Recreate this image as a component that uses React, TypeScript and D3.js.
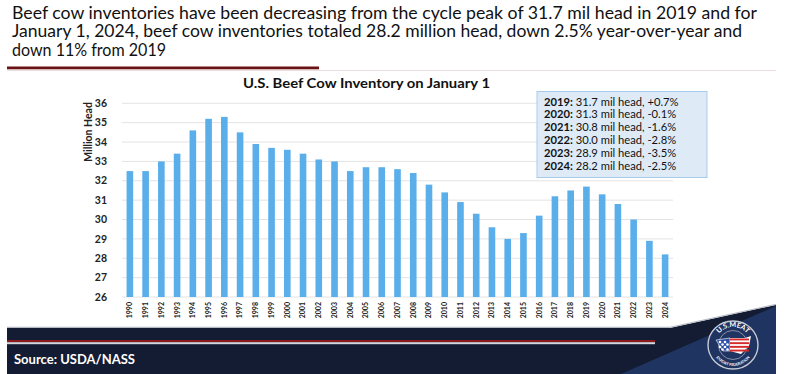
import * as d3 from "d3";

const years = [
  "1990", "1991", "1992", "1993", "1994", "1995", "1996", "1997", "1998", "1999",
  "2000", "2001", "2002", "2003", "2004", "2005", "2006", "2007", "2008", "2009",
  "2010", "2011", "2012", "2013", "2014", "2015", "2016", "2017", "2018", "2019",
  "2020", "2021", "2022", "2023", "2024",
];
const inventory = [
  32.5, 32.5, 33.0, 33.4, 34.6, 35.2, 35.3, 34.5, 33.9, 33.7,
  33.6, 33.4, 33.1, 33.0, 32.5, 32.7, 32.7, 32.6, 32.4, 31.8,
  31.4, 30.9, 30.3, 29.6, 29.0, 29.3, 30.2, 31.2, 31.5, 31.7,
  31.3, 30.8, 30.0, 28.9, 28.2,
];
const yTicks = [26, 27, 28, 29, 30, 31, 32, 33, 34, 35, 36];

const noteYears = ["2019:", "2020:", "2021:", "2022:", "2023:", "2024:"];
const noteText = [
  " 31.7 mil head, +0.7%",
  " 31.3 mil head, -0.1%",
  " 30.8 mil head, -1.6%",
  " 30.0 mil head, -2.8%",
  " 28.9 mil head, -3.5%",
  " 28.2 mil head, -2.5%",
];

const headline = [
  "Beef cow inventories have been decreasing from the cycle peak of 31.7 mil head in 2019 and for",
  "January 1, 2024, beef cow inventories totaled 28.2 million head, down 2.5% year-over-year and",
  "down 11% from 2019",
];
const headlineWidths = [745, 730, 154];

const FONT = "Lato, 'Open Sans', sans-serif";
const NAVY = "#141c33";
const NAVY_LIGHT = "#1f3461";

export default function App() {
  const x = d3
    .scaleBand<string>()
    .domain(years)
    .range([122, 673])
    .paddingInner(0.58)
    .paddingOuter(0.29);
  const y = d3.scaleLinear().domain([26, 36]).range([297, 103.3]);

  // logo helpers
  const lx = 733;
  const ly = 345;
  const topArc = d3.path();
  topArc.arc(lx, ly, 18, Math.PI * 1.05, Math.PI * 1.95);
  const botArc = d3.path();
  botArc.arc(lx, ly, 21, Math.PI * 0.85, Math.PI * 0.15, true);

  return (
    <svg
      width={794}
      height={374}
      style={{ position: "absolute", left: 0, top: 0, background: "#fff" }}
      fontFamily={FONT}
    >
      {/* headline */}
      {headline.map((t, i) => (
        <text
          key={i}
          x={12}
          y={19 + i * 18.3}
          fontSize={16.5}
          fill="#111"
          textLength={headlineWidths[i]}
          lengthAdjust="spacingAndGlyphs"
        >
          {t}
        </text>
      ))}
      <rect x={7} y={66.5} width={312} height={2.8} fill="#6b1214" />
      <line x1={7} x2={776} y1={70.5} y2={70.5} stroke="#ecdede" strokeWidth={1.2} />

      {/* chart title */}
      <text
        x={243}
        y={88}
        fontSize={12.5}
        fontWeight="bold"
        fill="#111"
        textLength={247}
        lengthAdjust="spacingAndGlyphs"
      >
        U.S. Beef Cow Inventory on January 1
      </text>

      {/* grid + y ticks */}
      {yTicks.map((t) => (
        <g key={t}>
          <line x1={122} x2={673} y1={y(t)} y2={y(t)} stroke="#e3e3e3" strokeWidth={1} />
          <text
            x={107}
            y={y(t)}
            dy="0.35em"
            textAnchor="end"
            fontSize={10.5}
            fontWeight="bold"
            fill="#222"
          >
            {t}
          </text>
        </g>
      ))}
      <text
        transform="translate(91.5,132) rotate(-90)"
        textAnchor="middle"
        fontSize={10.5}
        fontWeight="bold"
        fill="#222"
      >
        Million Head
      </text>

      {/* bars */}
      {years.map((yr, i) => (
        <rect
          key={yr}
          x={x(yr)}
          y={y(inventory[i])}
          width={x.bandwidth()}
          height={y(26) - y(inventory[i])}
          fill="#5aaeea"
        />
      ))}

      {/* x labels */}
      {years.map((yr) => (
        <text
          key={yr}
          transform={`translate(${(x(yr) ?? 0) + x.bandwidth() / 2 + 2.4},302) rotate(-90)`}
          textAnchor="end"
          fontSize={7}
          fontWeight="bold"
          fill="#222"
        >
          {yr}
        </text>
      ))}

      {/* notes box */}
      <rect x={537} y={91.5} width={170} height={86} fill="#deebf7" stroke="#a9cbeb" strokeWidth={1} />
      {noteYears.map((yr, i) => (
        <text key={yr} x={544} y={105.5 + i * 12.9} fontSize={11.2} fill="#111">
          <tspan fontWeight="bold">{yr}</tspan>
          <tspan>{noteText[i]}</tspan>
        </text>
      ))}

      {/* footer */}
      <polygon points="7,328 670,328 776,305 776,374 7,374" fill={NAVY} />
      <line x1={7} x2={670} y1={327.3} y2={327.3} stroke="#b5b9c2" strokeWidth={1.2} />
      <line x1={670} x2={776} y1={327.3} y2={304.3} stroke="#b5b9c2" strokeWidth={1} />
      <rect x={7} y={340} width={648} height={2.2} fill="#8b1a1c" />
      <rect x={7} y={342.2} width={648} height={2} fill="#d6d8de" />
      <polygon points="621,374 776,374 776,306" fill={NAVY_LIGHT} />
      <text x={14} y={364} fontSize={13} fontWeight="bold" fill="#fff">
        Source: USDA/NASS
      </text>

      {/* logo */}
      <g>
        <defs>
          <path id="logoTop" d={topArc.toString()} />
          <path id="logoBot" d={botArc.toString()} />
        </defs>
        <ellipse cx={lx} cy={ly} rx={25} ry={24} fill={NAVY_LIGHT} stroke="#c7cbd6" strokeWidth={1.4} />
        <circle cx={lx} cy={ly} r={14.5} fill="none" stroke="#c7cbd6" strokeWidth={0.6} />
        <text fontSize={7} fontWeight="bold" fill="#fff">
          <textPath href="#logoTop" startOffset="50%" textAnchor="middle">
            U.S.MEAT
          </textPath>
        </text>
        <text fontSize={3.8} fontWeight="bold" fill="#fff">
          <textPath href="#logoBot" startOffset="50%" textAnchor="middle">
            EXPORT FEDERATION
          </textPath>
        </text>
        <path
          d={`M${lx - 17},${ly - 5} L${lx - 3},${ly - 7} L${lx - 3},${ly + 6} L${lx - 10},${ly + 6} Z`}
          fill="#2d4fa8"
          stroke="#fff"
          strokeWidth={0.6}
        />
        {[0, 1, 2, 3].map((k) => (
          <g key={k}>
            <circle cx={lx - 13 + (k % 2) * 5} cy={ly - 3 + Math.floor(k / 2) * 5} r={1.3} fill="#fff" />
            <circle cx={lx - 10.5 + (k % 2) * 5} cy={ly - 0.5 + Math.floor(k / 2) * 5} r={1.3} fill="#fff" />
          </g>
        ))}
        <path
          d={`M${lx - 3},${ly - 7} L${lx + 12},${ly - 7} L${lx + 18},${ly - 9} L${lx + 16},${ly + 1} L${lx + 8},${ly + 9} L${lx - 3},${ly + 6} Z`}
          fill="#fff"
        />
        {[0, 1, 2, 3].map((k) => (
          <rect key={k} x={lx - 3} y={ly - 6.5 + k * 3.7} width={19} height={1.9} fill="#d42a2a" />
        ))}
      </g>
    </svg>
  );
}
